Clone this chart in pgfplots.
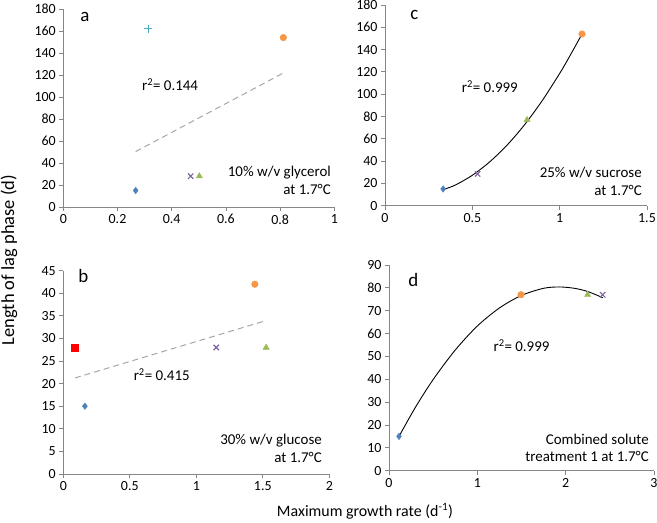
\documentclass[border=0pt]{standalone}
\usepackage{fontspec}
\setmainfont{Carlito}
\usepackage{pgfplots}
\pgfplotsset{compat=1.18}
\definecolor{cblue}{RGB}{79,129,189}
\definecolor{corange}{RGB}{247,150,70}
\definecolor{cgreen}{RGB}{155,187,89}
\definecolor{cpurple}{RGB}{128,100,162}
\definecolor{ccyan}{RGB}{75,172,198}
\definecolor{caxis}{RGB}{134,134,134}
\definecolor{ctrend}{RGB}{166,166,166}
\pgfplotsset{
  panel/.style={
    scale only axis,
    anchor=south west,
    axis x line=bottom, axis y line=left,
    axis line style={-, caxis, line width=0.8pt},
    tick style={caxis, line width=0.8pt},
    tick align=outside,
    major tick length=4bp,
    every tick label/.append style={font=\fontsize{14}{16}\selectfont, text=black},
    /pgf/number format/assume math mode=true,
    clip=false,
  },
  dia/.style={only marks, mark=diamond*, mark size=3.3bp, color=cblue},
  circ/.style={only marks, mark=*, mark size=3.3bp, color=corange},
  tri/.style={only marks, mark=triangle*, mark size=3.6bp, color=cgreen},
  crs/.style={only marks, mark=x, mark size=3.8bp, color=cpurple, mark options={line width=1.1pt}},
  pls/.style={only marks, mark=+, mark size=4bp, color=ccyan, mark options={line width=1.1pt}},
  sqr/.style={only marks, mark=square*, mark size=3.6bp, color=red},
  trend/.style={no marks, ctrend, line width=1pt, dash pattern=on 6bp off 4bp},
  fitline/.style={no marks, black, line width=0.9pt, smooth},
}
\newcommand{\lbl}{\fontsize{19}{21}\selectfont}
\newcommand{\txt}{\fontsize{15}{18}\selectfont}
\begin{document}
\begin{tikzpicture}
\path[use as bounding box] (0bp,0bp) rectangle (657bp,523bp);
% panel a
\begin{axis}[panel, at={(63.3bp,316bp)}, width=271bp, height=198bp,
  xmin=0, xmax=1, ymin=0, ymax=180,
  xtick={0,0.2,...,1}, ytick={0,20,...,180}]
\addplot[dia] coordinates {(0.267,15)};
\addplot[pls] coordinates {(0.314,162)};
\addplot[circ] coordinates {(0.812,154)};
\addplot[crs] coordinates {(0.470,28)};
\addplot[tri] coordinates {(0.502,28)};
\addplot[trend] coordinates {(0.267,50.4) (0.812,121.8)};
\node[anchor=center, font=\lbl] at (axis cs:0.08,173) {a};
\node[anchor=center, font=\txt] at (axis cs:0.394,111) {r\textsuperscript{2}= 0.144};
\node[anchor=east, align=right, font=\txt] at (axis cs:1.0,24) {10\% w/v glycerol\\at 1.7°C};
\end{axis}
% panel c
\begin{axis}[panel, at={(385bp,317.3bp)}, width=262bp, height=200.7bp,
  xmin=0, xmax=1.5, ymin=0, ymax=180,
  xtick={0,0.5,1,1.5}, ytick={0,20,...,180}]
\addplot[fitline] coordinates {(0.333,14.5) (0.4,18.3) (0.5,27.3) (0.6,39.4) (0.7,54.5) (0.8,72.8) (0.9,94.2) (1.0,118.6) (1.05,132.0) (1.128,154.0)};
\addplot[dia] coordinates {(0.333,15)};
\addplot[crs] coordinates {(0.530,28.5)};
\addplot[tri] coordinates {(0.813,77)};
\addplot[circ] coordinates {(1.128,154)};
\node[anchor=center, font=\lbl] at (axis cs:0.168,171) {c};
\node[anchor=center, font=\txt] at (axis cs:0.6,107) {r\textsuperscript{2}= 0.999};
\node[anchor=east, align=right, font=\txt] at (axis cs:1.49,22) {25\% w/v sucrose\\at 1.7°C};
\end{axis}
% panel b
\begin{axis}[panel, at={(63.3bp,49bp)}, width=266bp, height=203.3bp,
  xmin=0, xmax=2, ymin=0, ymax=45,
  xtick={0,0.5,...,2}, ytick={0,5,...,45}]
\addplot[sqr] coordinates {(0.0875,28)};
\addplot[dia] coordinates {(0.1625,15)};
\addplot[crs] coordinates {(1.15,28)};
\addplot[tri] coordinates {(1.525,28)};
\addplot[circ] coordinates {(1.44,42)};
\addplot[trend] coordinates {(0.0875,21.26) (1.525,33.96)};
\node[anchor=center, font=\lbl] at (axis cs:0.15,43.9) {b};
\node[anchor=center, font=\txt] at (axis cs:0.74,22) {r\textsuperscript{2}= 0.415};
\node[anchor=east, align=right, font=\txt] at (axis cs:1.97,5.6) {30\% w/v glucose\\at 1.7°C};
\end{axis}
% panel d
\begin{axis}[panel, at={(389bp,52.3bp)}, width=265bp, height=205.7bp,
  xmin=0, xmax=3, ymin=0, ymax=90,
  xtick={0,1,2,3}, ytick={0,10,...,90}]
\addplot[fitline] coordinates {(0.113,15) (0.3,27.8) (0.5,39.9) (0.75,52.8) (1.0,63.3) (1.25,71.2) (1.5,76.7) (1.75,79.8) (1.93,80.4) (2.1,79.8) (2.25,78.4) (2.419,75.7)};
\addplot[dia] coordinates {(0.113,15)};
\addplot[circ] coordinates {(1.494,77)};
\addplot[tri] coordinates {(2.249,77)};
\addplot[crs] coordinates {(2.419,77)};
\node[anchor=center, font=\lbl] at (axis cs:0.275,83.5) {d};
\node[anchor=center, font=\txt] at (axis cs:1.5,54.7) {r\textsuperscript{2}= 0.999};
\node[anchor=east, align=right, font=\txt] at (axis cs:2.98,10) {Combined solute\\treatment 1 at 1.7°C};
\end{axis}
\node[rotate=90, font=\fontsize{18.5}{20}\selectfont] at (9bp,263bp) {Length of lag phase (d)};
\node[font=\fontsize{16}{18}\selectfont] at (365bp,12bp) {Maximum growth rate (d\textsuperscript{-1})};
\end{tikzpicture}
\end{document}
